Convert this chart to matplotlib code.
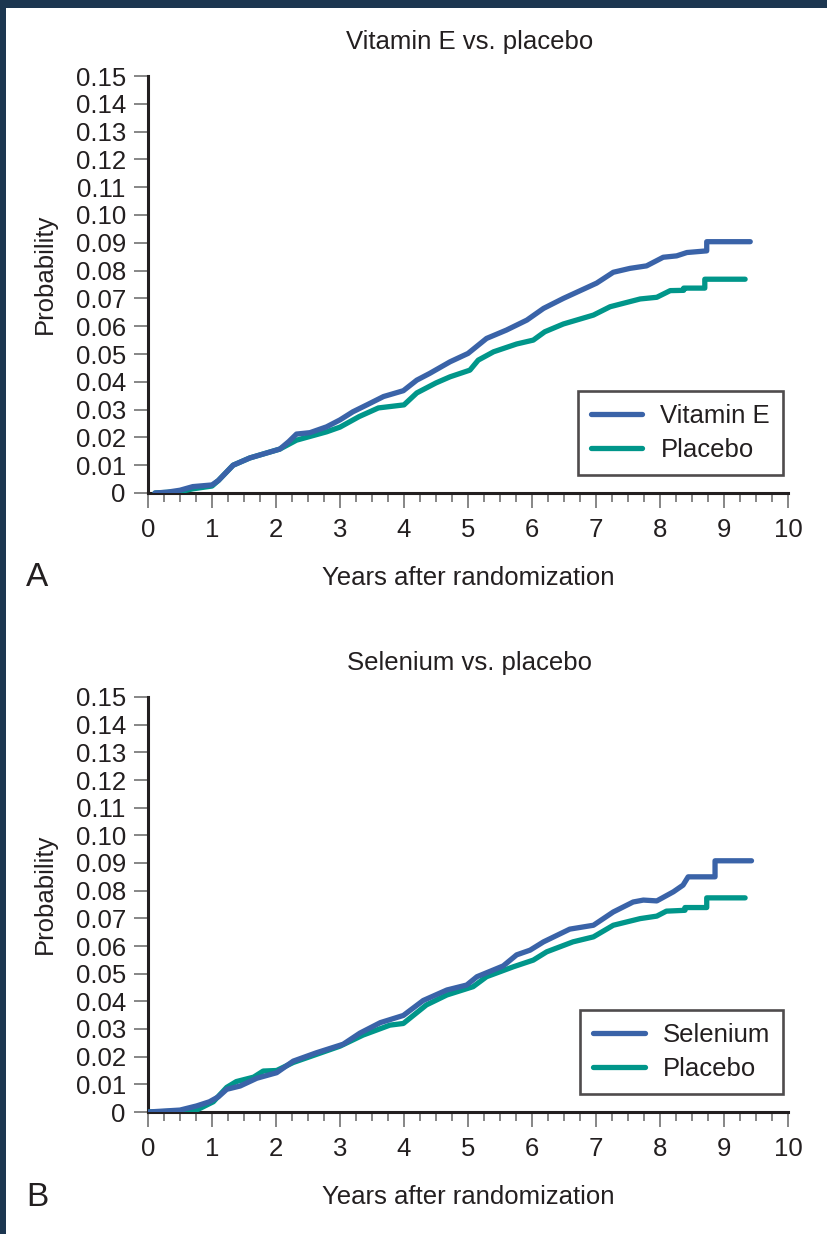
import numpy as np
import matplotlib
matplotlib.use("Agg")
import matplotlib.pyplot as plt
from matplotlib.patches import Rectangle

plt.rcParams['font.family'] = ['Liberation Sans', 'DejaVu Sans']

# panel A: vitamin E vs placebo (years, cumulative probability)
vite_t = [0.11, 0.3, 0.5, 0.7, 1.0, 1.1, 1.33, 1.59, 2.06, 2.2, 2.32, 2.53, 2.79, 3.0, 3.2, 3.42,
          3.68, 3.99, 4.2, 4.4, 4.72, 5.0, 5.29, 5.6, 5.92, 6.18, 6.49, 7.01, 7.27, 7.53, 7.79,
          8.05, 8.26, 8.42, 8.73, 8.73, 9.41]
vite_p = [0.0, 0.0003, 0.001, 0.0023, 0.0029, 0.0045, 0.0100, 0.0126, 0.0158, 0.0185, 0.0212,
          0.0217, 0.0238, 0.0263, 0.0292, 0.0317, 0.0347, 0.0368, 0.0406, 0.0430, 0.0472, 0.0502,
          0.0556, 0.0586, 0.0622, 0.0664, 0.0700, 0.0755, 0.0794, 0.0808, 0.0817, 0.0848, 0.0853,
          0.0865, 0.0871, 0.0904, 0.0904]
placA_t = [0.11, 0.5, 0.7, 1.0, 1.1, 1.33, 1.59, 2.06, 2.32, 2.79, 3.0, 3.3, 3.6, 4.0, 4.2, 4.5,
           4.72, 5.03, 5.16, 5.4, 5.76, 6.02, 6.2, 6.49, 6.96, 7.22, 7.69, 7.95, 8.16, 8.37, 8.37,
           8.70, 8.70, 9.33]
placA_p = [0.0, 0.0005, 0.0015, 0.0025, 0.0045, 0.0100, 0.0126, 0.0158, 0.0190, 0.0220, 0.0237,
           0.0275, 0.0306, 0.0317, 0.0360, 0.0396, 0.0418, 0.0442, 0.0478, 0.0508, 0.0536, 0.0550,
           0.0580, 0.0608, 0.0640, 0.0670, 0.0698, 0.0704, 0.0728, 0.0729, 0.0737, 0.0737, 0.0769,
           0.0769]

# panel B: selenium vs placebo
sel_t = [0.0, 0.5, 0.76, 0.96, 1.1, 1.23, 1.44, 1.7, 2.01, 2.27, 2.63, 3.05, 3.31, 3.63, 3.99,
         4.3, 4.67, 4.98, 5.14, 5.55, 5.76, 5.97, 6.18, 6.59, 6.96, 7.27, 7.58, 7.74, 7.95, 8.21,
         8.36, 8.44, 8.86, 8.86, 9.43]
sel_p = [0.0, 0.0007, 0.0022, 0.0037, 0.0055, 0.0082, 0.0094, 0.0122, 0.0142, 0.0184, 0.0214,
         0.0245, 0.0285, 0.0323, 0.0349, 0.0403, 0.0441, 0.0459, 0.0489, 0.0528, 0.0568, 0.0585,
         0.0615, 0.0661, 0.0675, 0.0723, 0.0759, 0.0766, 0.0763, 0.0796, 0.0820, 0.0850, 0.0850,
         0.0908, 0.0908]
placB_t = [0.0, 0.5, 0.76, 1.02, 1.23, 1.38, 1.65, 1.8, 2.01, 2.27, 3.0, 3.36, 3.78, 3.99, 4.35,
           4.67, 5.08, 5.29, 5.71, 6.02, 6.23, 6.64, 6.96, 7.27, 7.69, 7.95, 8.1, 8.39, 8.39, 8.73,
           8.73, 9.33]
placB_p = [0.0, 0.0003, 0.0007, 0.0037, 0.0089, 0.0110, 0.0126, 0.0148, 0.0150, 0.0179, 0.0238,
           0.0278, 0.0314, 0.0320, 0.0387, 0.0423, 0.0453, 0.0489, 0.0525, 0.0549, 0.0579, 0.0615,
           0.0633, 0.0675, 0.0699, 0.0708, 0.0726, 0.0729, 0.0739, 0.0739, 0.0774, 0.0774]

yticks = [0.00, 0.01, 0.02, 0.03, 0.04, 0.05, 0.06, 0.07, 0.08, 0.09, 0.10, 0.11, 0.12, 0.13, 0.14, 0.15]
ylabels = ['0'] + ['%.2f' % v for v in yticks[1:]]
xticks = list(range(11))

BLUE = '#3a63a8'
GREEN = '#00968a'
INK = '#231f20'
FS = 18.5
W, H = 828, 1234


def fx(px): return px / W
def fy(py): return 1 - py / H


def draw_panel(fig, top, bottom, title, letter, treat_name, t1, p1, t0, p0):
    ax = fig.add_axes([fx(148), fy(bottom), fx(788) - fx(148), fy(top) - fy(bottom)])
    ax.set_facecolor('none')
    ax.set_zorder(2)
    ax.plot(t0, p0, color=GREEN, lw=3.8, solid_capstyle='round', label='Placebo', zorder=3)
    ax.plot(t1, p1, color=BLUE, lw=3.8, solid_capstyle='round', label=treat_name, zorder=4)
    ax.set_xlim(0, 10); ax.set_ylim(0, 0.15)
    for s in ['top', 'right']:
        ax.spines[s].set_visible(False)
    for s in ['left', 'bottom']:
        ax.spines[s].set_linewidth(2.2); ax.spines[s].set_color(INK)
    ax.set_yticks(yticks); ax.set_yticklabels(ylabels)
    ax.set_xticks(xticks)
    ax.set_xticks(np.arange(0, 10.01, 0.25), minor=True)
    ax.tick_params(axis='y', direction='out', length=10, width=1.1, color='#666666',
                   labelsize=FS, pad=6, labelcolor=INK)
    ax.tick_params(axis='x', which='major', direction='out', length=11, width=1.1,
                   color='#666666', labelsize=FS, pad=7, labelcolor=INK)
    ax.tick_params(axis='x', which='minor', direction='out', length=6.5, width=1.1, color='#666666')
    h, l = ax.get_legend_handles_labels()
    leg = ax.legend(h[::-1], l[::-1], loc='lower right', bbox_to_anchor=(0.992, 0.043),
                    fontsize=FS, frameon=True, fancybox=False, handlelength=2.0,
                    handletextpad=0.7, borderpad=0.5, labelspacing=0.4, borderaxespad=0)
    leg.get_frame().set_edgecolor(INK); leg.get_frame().set_linewidth(1.9)
    for txt in leg.get_texts():
        txt.set_color(INK)
    fig.text(fx(470), fy(top - 34), title, ha='center', va='center', fontsize=FS, color=INK)
    fig.text(fx(45), fy((top + bottom) / 2 - 11), 'Probability', rotation=90, ha='center',
             va='center', fontsize=FS, color=INK)
    fig.text(fx(468), fy(bottom + 85), 'Years after randomization', ha='center', va='center',
             fontsize=FS, color=INK)
    fig.text(fx(26), fy(bottom + 85), letter, ha='left', va='center', fontsize=24, color=INK)
    return ax


fig = plt.figure(figsize=(W / 100, H / 100), dpi=100)
fig.patch.set_facecolor('#1c3650')
fig.patches.append(Rectangle((fx(6), 0), 1 - fx(6), fy(8), transform=fig.transFigure,
                             facecolor='white', edgecolor='none', zorder=-5))

draw_panel(fig, 76, 493, 'Vitamin E vs. placebo', 'A', 'Vitamin E', vite_t, vite_p, placA_t, placA_p)
draw_panel(fig, 697, 1112, 'Selenium vs. placebo', 'B', 'Selenium', sel_t, sel_p, placB_t, placB_p)

fig.savefig('out.png', dpi=100, facecolor=fig.get_facecolor())
